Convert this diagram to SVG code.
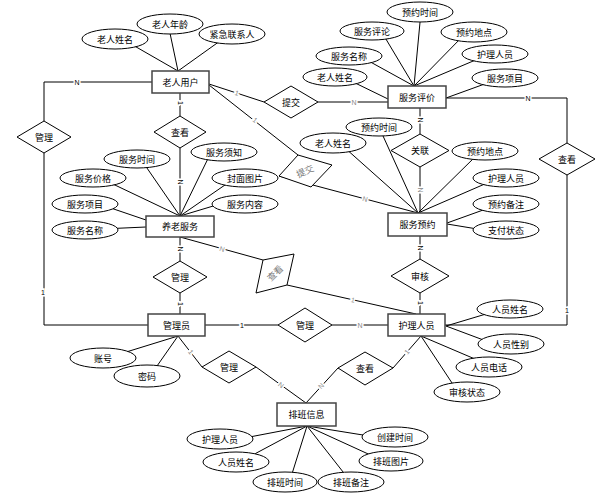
<svg xmlns="http://www.w3.org/2000/svg" width="604" height="497" viewBox="0 0 604 497">
<style>
.ln{stroke:#000;stroke-width:1;fill:none}
.ent rect{fill:#fff;stroke:#444;stroke-width:1.5}
.att ellipse{fill:#fff;stroke:#000;stroke-width:1}
.rel polygon{fill:#fff;stroke:#000;stroke-width:1}
.t{font-family:"Noto Sans CJK SC","Noto Sans",sans-serif;font-size:9px;text-anchor:middle;dominant-baseline:central;fill:#000}
.c{font-family:"Liberation Sans",sans-serif;font-size:7px;text-anchor:middle;dominant-baseline:central;stroke:#fff;stroke-width:3;paint-order:stroke;fill:#000}
.g{fill:#888}
.rt{fill:#777}
</style>
<rect width="604" height="497" fill="#fff"/>
<g id="connectors">
  <!-- attribute lines -->
  <g class="ln">
    <line x1="127.5" y1="42" x2="178" y2="71"/>
    <line x1="169" y1="28.5" x2="178" y2="71"/>
    <line x1="223.5" y1="38.5" x2="178" y2="71"/>
    <line x1="420.5" y1="17" x2="414" y2="86"/>
    <line x1="383.5" y1="35" x2="414" y2="86"/>
    <line x1="365" y1="59" x2="414" y2="86"/>
    <line x1="463" y1="36" x2="414" y2="86"/>
    <line x1="481.5" y1="57.5" x2="414" y2="86"/>
    <line x1="349" y1="80" x2="388" y2="99"/>
    <line x1="491.5" y1="81.5" x2="446" y2="98"/>
    <line x1="345" y1="148" x2="418" y2="213"/>
    <line x1="381" y1="131.5" x2="418" y2="213"/>
    <line x1="476.5" y1="155.5" x2="418" y2="213"/>
    <line x1="490.5" y1="181.5" x2="418" y2="213"/>
    <line x1="491.5" y1="207" x2="447" y2="223"/>
    <line x1="489.5" y1="231" x2="447" y2="224"/>
    <line x1="143.5" y1="163" x2="180" y2="216"/>
    <line x1="209.5" y1="155.5" x2="180" y2="216"/>
    <line x1="106.5" y1="181" x2="180" y2="216"/>
    <line x1="230" y1="181.5" x2="180" y2="216"/>
    <line x1="231.5" y1="200.5" x2="180" y2="216"/>
    <line x1="100.5" y1="204.5" x2="146" y2="220"/>
    <line x1="101.5" y1="229" x2="146" y2="227"/>
    <line x1="116.5" y1="355" x2="178" y2="336"/>
    <line x1="153.5" y1="371" x2="178" y2="336"/>
    <line x1="496" y1="311" x2="446" y2="326"/>
    <line x1="495.5" y1="344.5" x2="446" y2="326"/>
    <line x1="482" y1="362" x2="421" y2="336"/>
    <line x1="455" y1="387.5" x2="421" y2="336"/>
    <line x1="236.5" y1="439.5" x2="307" y2="426"/>
    <line x1="248" y1="457.5" x2="307" y2="426"/>
    <line x1="291" y1="477" x2="307" y2="426"/>
    <line x1="347" y1="477" x2="307" y2="426"/>
    <line x1="378.5" y1="437.5" x2="307" y2="426"/>
    <line x1="377" y1="458" x2="307" y2="426"/>
  </g>
  <!-- relationship lines -->
  <g class="ln">
    <polyline points="152,82 44,82 44,121"/>
    <polyline points="44,153 44,325 148,325"/>
    <line x1="180" y1="93" x2="180" y2="116"/>
    <line x1="180" y1="148" x2="180" y2="216"/>
    <line x1="180" y1="237" x2="180" y2="261"/>
    <line x1="180" y1="293" x2="180" y2="314"/>
    <line x1="209" y1="84" x2="264" y2="102"/>
    <line x1="318" y1="102" x2="388" y2="102"/>
    <line x1="209" y1="85" x2="298" y2="155"/>
    <line x1="279" y1="176" x2="418" y2="213"/>
    <line x1="420" y1="108" x2="420" y2="134"/>
    <line x1="420" y1="167" x2="420" y2="213"/>
    <line x1="420" y1="236" x2="420" y2="259"/>
    <line x1="420" y1="293" x2="420" y2="314"/>
    <polyline points="446,98 567,98 567,143"/>
    <polyline points="567,175 567,325 445,325"/>
    <line x1="180" y1="237" x2="263" y2="260"/>
    <line x1="287" y1="285" x2="416" y2="314"/>
    <line x1="205" y1="325" x2="278" y2="325"/>
    <line x1="332" y1="325" x2="388" y2="325"/>
    <line x1="178" y1="336" x2="202" y2="367"/>
    <line x1="256" y1="367" x2="306" y2="403"/>
    <line x1="338" y1="368" x2="306" y2="403"/>
    <line x1="393" y1="368" x2="421" y2="336"/>
  </g>
  <!-- cardinality labels -->
  <text class="c" x="77" y="82">N</text>
  <text class="c" x="43" y="292">1</text>
  <text class="c" transform="translate(180,103) rotate(90)">1</text>
  <text class="c" transform="translate(180,182) rotate(90)">N</text>
  <text class="c" transform="translate(180,249) rotate(90)">N</text>
  <text class="c" transform="translate(180,304) rotate(90)">1</text>
  <text class="c g" transform="translate(237,93) rotate(18)">1</text>
  <text class="c g" x="354" y="102">N</text>
  <text class="c g" transform="translate(255,120) rotate(38)">1</text>
  <text class="c g" transform="translate(365,199) rotate(15)">N</text>
  <text class="c" transform="translate(420,120) rotate(90)">N</text>
  <text class="c g" transform="translate(420,190) rotate(90)">N</text>
  <text class="c" transform="translate(420,248) rotate(90)">N</text>
  <text class="c" transform="translate(420,303) rotate(90)">1</text>
  <text class="c" x="528" y="98">N</text>
  <text class="c" x="567" y="310">1</text>
  <text class="c g" transform="translate(222,249) rotate(15.5)">N</text>
  <text class="c g" transform="translate(353,300) rotate(12.7)">1</text>
  <text class="c" x="242" y="325">1</text>
  <text class="c g" x="360" y="325">N</text>
  <text class="c g" transform="translate(191,352) rotate(52)">1</text>
  <text class="c g" transform="translate(281,385) rotate(36)">N</text>
  <text class="c g" transform="translate(321,386) rotate(-48)">N</text>
  <text class="c g" transform="translate(407,352) rotate(-49)">1</text>
</g>

<g id="rel-guanli-1" class="rel"><polygon points="17,137 44,121 71,137 44,153"/><text class="t" x="44" y="137">管理</text></g>
<g id="rel-chakan-1" class="rel"><polygon points="154,132 180,116 206,132 180,148"/><text class="t" x="180" y="132">查看</text></g>
<g id="rel-tijiao-1" class="rel"><polygon points="264,102 291,86 318,102 291,118"/><text class="t" x="291" y="102">提交</text></g>
<g id="rel-tijiao-2" class="rel"><polygon points="298,155 332,165 311,187 279,176"/><text class="t rt" transform="translate(305,171) rotate(-25)">提交</text></g>
<g id="rel-guanlian" class="rel"><polygon points="391,150.5 420,134 449,150.5 420,167"/><text class="t" x="420" y="150.5">关联</text></g>
<g id="rel-chakan-2" class="rel"><polygon points="539,159 567,143 595,159 567,175"/><text class="t" x="567" y="159">查看</text></g>
<g id="rel-chakan-3" class="rel"><polygon points="263,260 294,254 287,285 256,293"/><text class="t rt" transform="translate(275,273) rotate(-45)">查看</text></g>
<g id="rel-guanli-2" class="rel"><polygon points="153,277 180,261 207,277 180,293"/><text class="t" x="180" y="277">管理</text></g>
<g id="rel-shenhe" class="rel"><polygon points="391,276 420,259 449,276 420,293"/><text class="t" x="420" y="276">审核</text></g>
<g id="rel-guanli-3" class="rel"><polygon points="278,325 305,308 332,325 305,342"/><text class="t" x="305" y="325">管理</text></g>
<g id="rel-guanli-4" class="rel"><polygon points="202,367 229,351 256,367 229,383"/><text class="t" x="229" y="367">管理</text></g>
<g id="rel-chakan-4" class="rel"><polygon points="338,368 365,352 393,368 365,385"/><text class="t" x="365" y="368">查看</text></g>

<g id="ent-laoren" class="ent"><rect x="152" y="71" width="57" height="22"/><text class="t" x="180.5" y="82">老人用户</text></g>
<g id="ent-pingjia" class="ent"><rect x="388" y="86" width="58" height="22"/><text class="t" x="417" y="97">服务评价</text></g>
<g id="ent-yanglao" class="ent"><rect x="146" y="216" width="68" height="21"/><text class="t" x="180" y="226.5">养老服务</text></g>
<g id="ent-yuyue" class="ent"><rect x="388" y="213" width="59" height="23"/><text class="t" x="417.5" y="224.5">服务预约</text></g>
<g id="ent-guanliyuan" class="ent"><rect x="148" y="314" width="57" height="22"/><text class="t" x="176.5" y="325">管理员</text></g>
<g id="ent-huli" class="ent"><rect x="388" y="314" width="57" height="22"/><text class="t" x="416.5" y="325">护理人员</text></g>
<g id="ent-paiban" class="ent"><rect x="277" y="403" width="59" height="23"/><text class="t" x="306.5" y="414.5">排班信息</text></g>

<g id="att-laoren-xingming" class="att"><ellipse cx="115" cy="39" rx="33" ry="10"/><text class="t" x="115" y="39">老人姓名</text></g>
<g id="att-laoren-nianling" class="att"><ellipse cx="170" cy="24" rx="33" ry="10"/><text class="t" x="170" y="24">老人年龄</text></g>
<g id="att-laoren-lianxiren" class="att"><ellipse cx="232" cy="34" rx="33" ry="10"/><text class="t" x="232" y="34">紧急联系人</text></g>

<g id="att-pj-shijian" class="att"><ellipse cx="420" cy="12" rx="33" ry="10"/><text class="t" x="420" y="12">预约时间</text></g>
<g id="att-pj-pinglun" class="att"><ellipse cx="372" cy="31" rx="32" ry="9"/><text class="t" x="372" y="31">服务评论</text></g>
<g id="att-pj-didian" class="att"><ellipse cx="474" cy="32" rx="33" ry="10"/><text class="t" x="474" y="32">预约地点</text></g>
<g id="att-pj-mingcheng" class="att"><ellipse cx="349" cy="56" rx="33" ry="9"/><text class="t" x="349" y="56">服务名称</text></g>
<g id="att-pj-huli" class="att"><ellipse cx="495" cy="54" rx="33" ry="9"/><text class="t" x="495" y="54">护理人员</text></g>
<g id="att-pj-laoren" class="att"><ellipse cx="335" cy="77" rx="32" ry="9"/><text class="t" x="335" y="77">老人姓名</text></g>
<g id="att-pj-xiangmu" class="att"><ellipse cx="505" cy="78" rx="33" ry="9"/><text class="t" x="505" y="78">服务项目</text></g>

<g id="att-yy-laoren" class="att"><ellipse cx="333" cy="143" rx="33" ry="10"/><text class="t" x="333" y="143">老人姓名</text></g>
<g id="att-yy-shijian" class="att"><ellipse cx="379" cy="127" rx="33" ry="9"/><text class="t" x="379" y="127">预约时间</text></g>
<g id="att-yy-didian" class="att"><ellipse cx="485" cy="151" rx="33" ry="9"/><text class="t" x="485" y="151">预约地点</text></g>
<g id="att-yy-huli" class="att"><ellipse cx="506" cy="178" rx="33" ry="9"/><text class="t" x="506" y="178">护理人员</text></g>
<g id="att-yy-beizhu" class="att"><ellipse cx="506" cy="204" rx="33" ry="9"/><text class="t" x="506" y="204">预约备注</text></g>
<g id="att-yy-zhifu" class="att"><ellipse cx="506" cy="230" rx="33" ry="9"/><text class="t" x="506" y="230">支付状态</text></g>

<g id="att-yl-shijian" class="att"><ellipse cx="137" cy="159" rx="33" ry="9"/><text class="t" x="137" y="159">服务时间</text></g>
<g id="att-yl-xuzhi" class="att"><ellipse cx="224" cy="152" rx="33" ry="9"/><text class="t" x="224" y="152">服务须知</text></g>
<g id="att-yl-jiage" class="att"><ellipse cx="93" cy="178" rx="33" ry="9"/><text class="t" x="93" y="178">服务价格</text></g>
<g id="att-yl-tupian" class="att"><ellipse cx="245" cy="178" rx="33" ry="9"/><text class="t" x="245" y="178">封面图片</text></g>
<g id="att-yl-xiangmu" class="att"><ellipse cx="85" cy="204" rx="33" ry="9"/><text class="t" x="85" y="204">服务项目</text></g>
<g id="att-yl-neirong" class="att"><ellipse cx="245" cy="204" rx="33" ry="9"/><text class="t" x="245" y="204">服务内容</text></g>
<g id="att-yl-mingcheng" class="att"><ellipse cx="85" cy="230" rx="33" ry="9"/><text class="t" x="85" y="230">服务名称</text></g>

<g id="att-gly-zhanghao" class="att"><ellipse cx="103" cy="358" rx="33" ry="10"/><text class="t" x="103" y="358">账号</text></g>
<g id="att-gly-mima" class="att"><ellipse cx="147" cy="376" rx="33" ry="11"/><text class="t" x="147" y="376">密码</text></g>

<g id="att-hl-xingming" class="att"><ellipse cx="510" cy="309" rx="33" ry="9"/><text class="t" x="510" y="309">人员姓名</text></g>
<g id="att-hl-xingbie" class="att"><ellipse cx="511" cy="344" rx="33" ry="10"/><text class="t" x="511" y="344">人员性别</text></g>
<g id="att-hl-dianhua" class="att"><ellipse cx="489" cy="367" rx="33" ry="10"/><text class="t" x="489" y="367">人员电话</text></g>
<g id="att-hl-shenhe" class="att"><ellipse cx="467" cy="392" rx="33" ry="10"/><text class="t" x="467" y="392">审核状态</text></g>

<g id="att-pb-huli" class="att"><ellipse cx="220" cy="439" rx="33" ry="10"/><text class="t" x="220" y="439">护理人员</text></g>
<g id="att-pb-xingming" class="att"><ellipse cx="236" cy="462" rx="33" ry="10"/><text class="t" x="236" y="462">人员姓名</text></g>
<g id="att-pb-shijian" class="att"><ellipse cx="285" cy="482" rx="32" ry="10"/><text class="t" x="285" y="482">排班时间</text></g>
<g id="att-pb-beizhu" class="att"><ellipse cx="351" cy="482" rx="33" ry="10"/><text class="t" x="351" y="482">排班备注</text></g>
<g id="att-pb-chuangjian" class="att"><ellipse cx="395" cy="437" rx="33" ry="10"/><text class="t" x="395" y="437">创建时间</text></g>
<g id="att-pb-tupian" class="att"><ellipse cx="391" cy="461" rx="32" ry="10"/><text class="t" x="391" y="461">排班图片</text></g>
</svg>
